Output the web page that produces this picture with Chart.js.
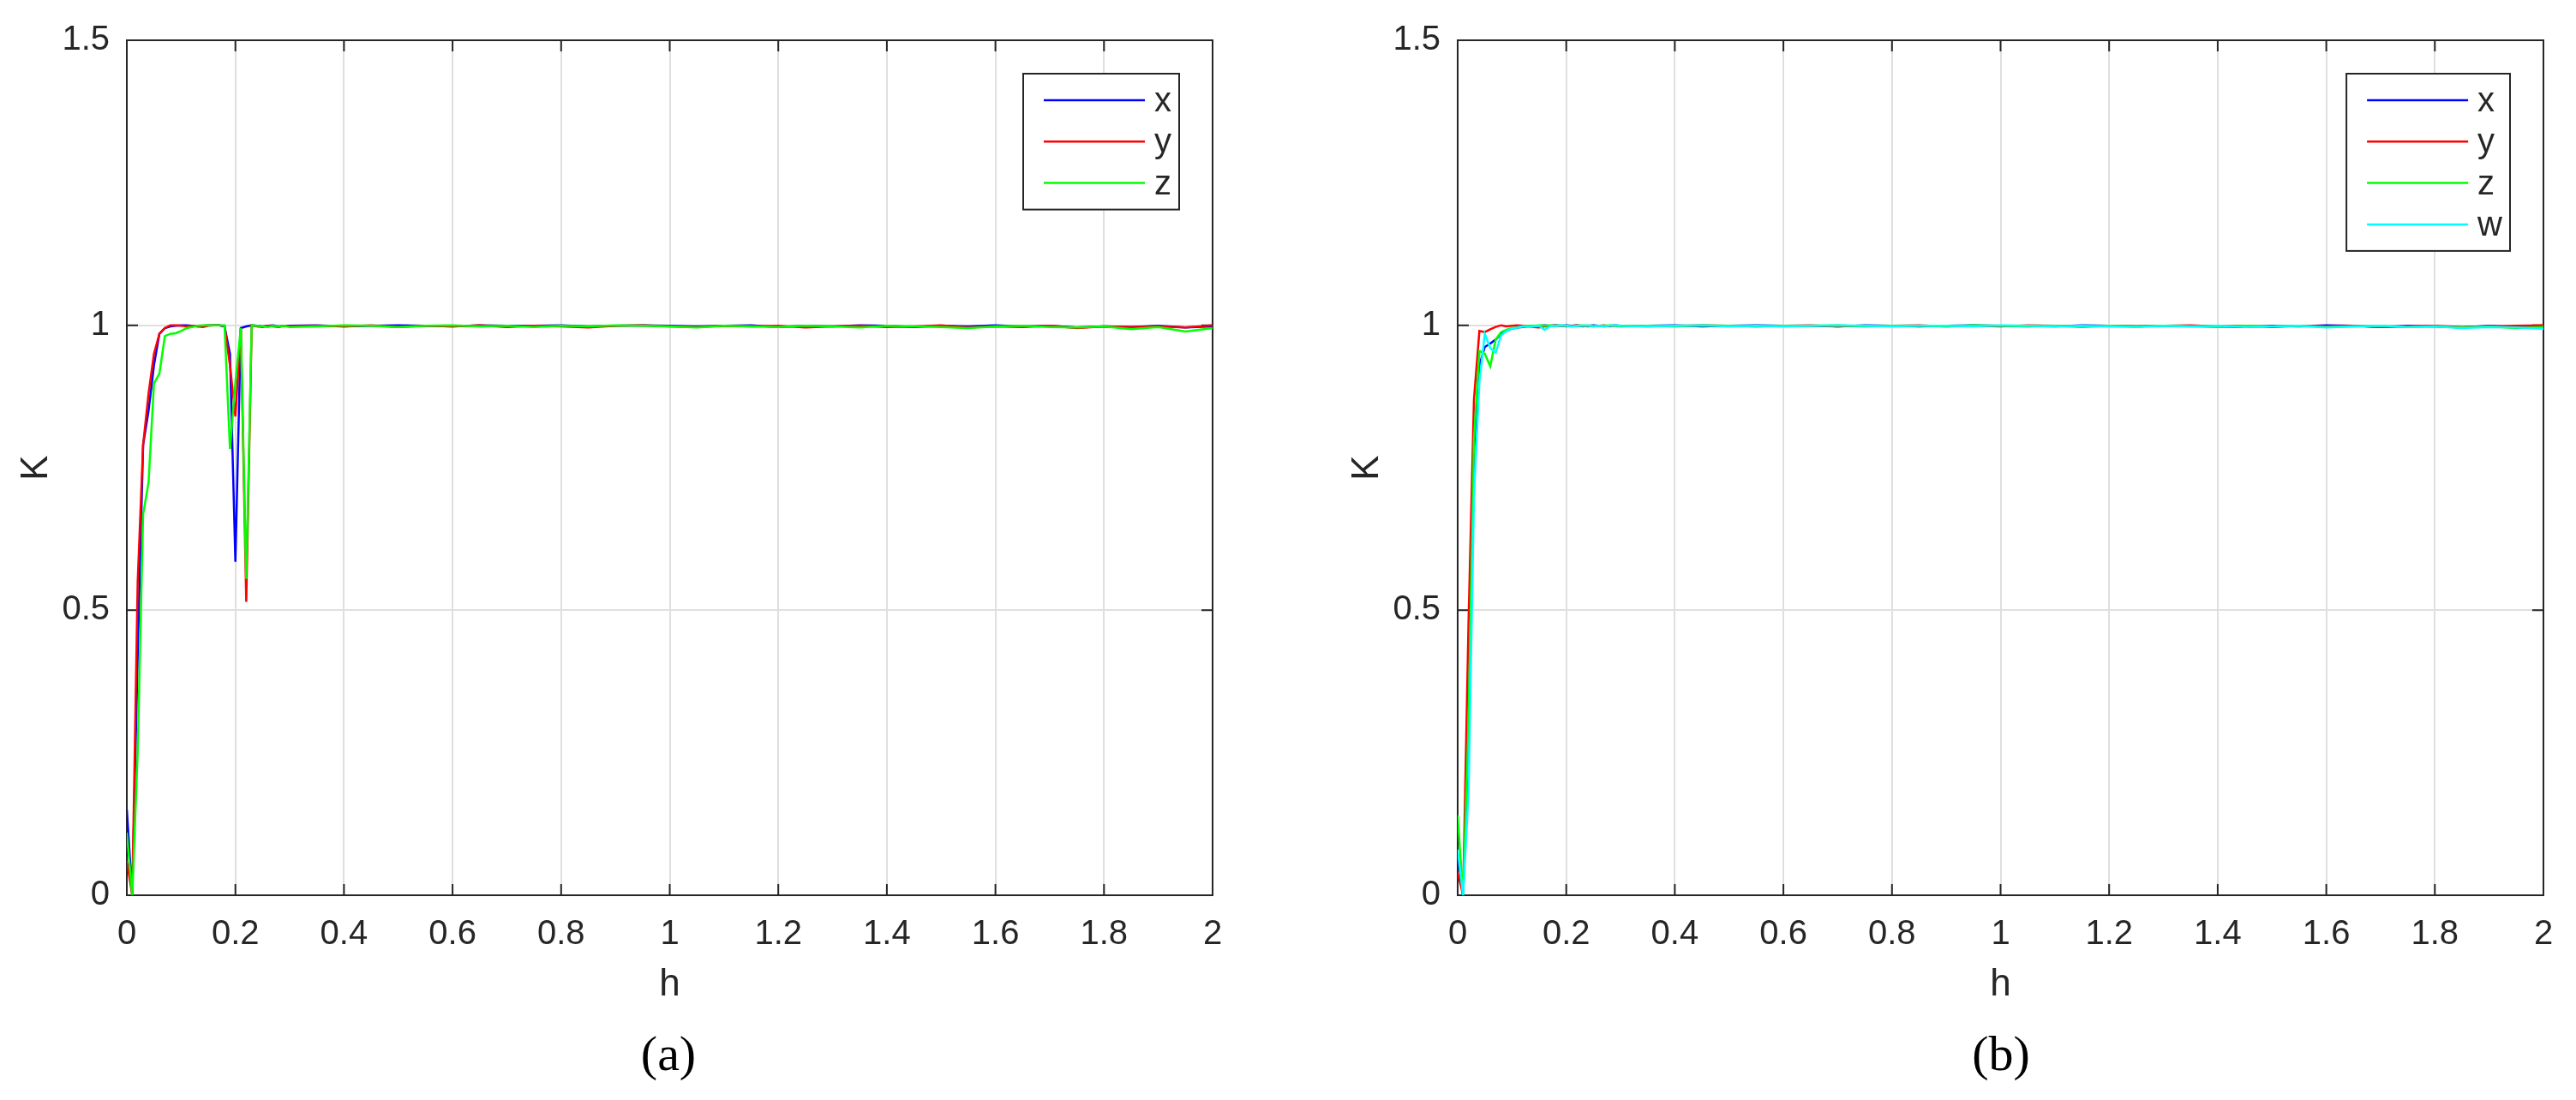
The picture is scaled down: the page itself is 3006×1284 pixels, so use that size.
<!DOCTYPE html>
<html>
<head>
<meta charset="utf-8">
<script src="https://cdn.jsdelivr.net/npm/chart.js@4.4.0/dist/chart.umd.min.js"></script>
<style>
  html, body { margin: 0; padding: 0; background: #fff; }
  body { width: 3006px; height: 1284px; position: relative; overflow: hidden; }
  .panel { position: absolute; top: 0; height: 1284px; }
  .caption {
    position: absolute; top: 1229px;
    font-family: "Liberation Serif", "Times New Roman", serif;
    font-size: 58px; color: #000;
    transform: translate(-50%, -50%);
  }
</style>
</head>
<body>
<div class="panel" style="left:0;width:1503px"><canvas id="chartA"></canvas></div>
<div class="panel" style="left:1553px;width:1453px"><canvas id="chartB"></canvas></div>
<div class="caption" style="left:780px">(a)</div>
<div class="caption" style="left:2335px">(b)</div>
<script>
// step values of h (fine near the start, coarser on the flat part)
const hGrid = [0, 0.01, 0.02, 0.03, 0.04, 0.05, 0.06, 0.07, 0.08, 0.09,
  0.10, 0.11, 0.12, 0.13, 0.14, 0.15, 0.16, 0.17, 0.18, 0.19,
  0.20, 0.21, 0.22, 0.23, 0.24, 0.25, 0.26, 0.27, 0.28, 0.29,
  0.30,
  0.35, 0.40, 0.45, 0.50, 0.55, 0.60, 0.65, 0.70, 0.75, 0.80,
  0.85, 0.90, 0.95, 1.00, 1.05, 1.10, 1.15, 1.20, 1.25, 1.30,
  1.35, 1.40, 1.45, 1.50, 1.55, 1.60, 1.65, 1.70, 1.75, 1.80,
  1.85, 1.90, 1.95, 2.00];

const xTickLabels = ['0', '0.2', '0.4', '0.6', '0.8', '1', '1.2', '1.4', '1.6', '1.8', '2'];
const yTickLabels = ['0', '0.5', '1', '1.5'];

// panel (a)
const aX = [0.15, 0.0, 0.42, 0.79, 0.85, 0.93, 0.985, 0.995, 0.998, 0.999,
  1.0, 1.0, 0.999, 0.998, 0.999, 1.0, 1.0, 1.0, 0.998, 0.95,
  0.585, 0.995, 0.998, 1.0, 0.999, 0.998, 0.999, 1.0, 0.998, 0.999,
  0.999,
  1.0, 0.998, 0.999, 1.0, 0.999, 0.998, 1.0, 0.999, 0.999, 1.0,
  0.998, 0.999, 1.0, 0.999, 0.998, 0.999, 1.0, 0.997, 0.999, 0.998,
  1.0, 0.999, 0.997, 0.999, 0.998, 1.0, 0.998, 0.999, 0.996, 0.998,
  0.997, 0.999, 0.996, 0.998];
const aY = [0.06, 0.0, 0.55, 0.79, 0.88, 0.95, 0.985, 0.995, 1.0, 1.0,
  0.999, 0.998, 0.999, 0.998, 0.997, 0.999, 1.0, 1.0, 0.999, 0.93,
  0.84, 0.995, 0.515, 1.0, 0.998, 0.997, 0.999, 0.998, 0.997, 0.999,
  0.998,
  0.999, 0.998, 1.0, 0.997, 0.999, 0.998, 1.0, 0.997, 0.999, 0.998,
  0.996, 0.999, 1.0, 0.998, 0.997, 0.999, 0.998, 0.999, 0.996, 0.998,
  0.999, 0.997, 0.998, 1.0, 0.996, 0.998, 0.997, 0.999, 0.995, 0.998,
  0.997, 0.998, 0.996, 1.0];
const aZ = [0.11, 0.0, 0.25, 0.668, 0.724, 0.898, 0.915, 0.981, 0.985, 0.986,
  0.99, 0.995, 0.997, 0.999, 1.0, 1.0, 1.0, 1.0, 1.0, 0.783,
  0.9, 0.995, 0.555, 1.0, 0.999, 0.998, 0.997, 0.999, 0.998, 0.999,
  0.997,
  0.998, 1.0, 0.999, 0.997, 0.999, 1.0, 0.998, 0.999, 0.997, 0.999,
  0.998, 1.0, 0.999, 0.998, 0.996, 0.999, 0.998, 0.997, 0.999, 0.998,
  0.996, 0.999, 0.998, 0.997, 0.995, 0.998, 0.999, 0.997, 0.996, 0.998,
  0.993, 0.997, 0.989, 0.995];

// panel (b)
const bX = [0.07, 0.0, 0.28, 0.78, 0.93, 0.962, 0.968, 0.975, 0.985, 0.99,
  0.994, 0.996, 0.997, 0.998, 0.999, 0.999, 1.0, 0.999, 1.0, 0.999,
  1.0, 0.999, 1.0, 0.998, 0.999, 1.0, 0.999, 0.998, 0.999, 1.0,
  0.999,
  0.999, 1.0, 0.998, 0.999, 1.0, 0.999, 0.999, 0.998, 1.0, 0.999,
  0.998, 0.999, 1.0, 0.999, 0.999, 0.998, 1.0, 0.999, 0.998, 0.999,
  0.999, 0.998, 0.997, 0.999, 0.998, 1.0, 0.999, 0.997, 0.999, 0.998,
  0.996, 0.999, 0.997, 0.998];
const bY = [0.04, 0.0, 0.48, 0.87, 0.99, 0.988, 0.993, 0.997, 1.0, 0.998,
  0.999, 1.0, 0.999, 0.998, 0.997, 0.996, 0.998, 0.999, 1.0, 0.999,
  0.998, 0.999, 1.0, 0.999, 0.998, 0.999, 0.999, 1.0, 0.998, 0.999,
  0.999,
  0.998, 0.999, 1.0, 0.999, 0.998, 0.999, 1.0, 0.998, 0.999, 0.999,
  1.0, 0.998, 0.999, 0.998, 1.0, 0.999, 0.998, 0.999, 0.998, 0.999,
  1.0, 0.998, 0.999, 0.997, 0.999, 0.998, 0.999, 0.997, 0.998, 0.999,
  0.997, 0.998, 0.999, 1.0];
const bZ = [0.14, 0.0, 0.3, 0.8, 0.955, 0.95, 0.928, 0.975, 0.988, 0.992,
  0.995, 0.996, 0.998, 0.999, 0.999, 1.0, 0.999, 1.0, 0.999, 1.0,
  0.999, 0.998, 0.999, 1.0, 0.999, 0.998, 0.999, 0.999, 1.0, 0.999,
  0.998,
  0.999, 0.998, 1.0, 0.999, 0.998, 0.999, 0.999, 1.0, 0.998, 0.999,
  0.999, 0.998, 1.0, 0.999, 0.998, 0.999, 0.997, 0.999, 0.998, 0.999,
  0.998, 0.997, 0.999, 0.998, 0.999, 0.997, 0.998, 0.999, 0.997, 0.998,
  0.996, 0.998, 0.995, 0.997];
const bW = [0.08, 0.0, 0.18, 0.7, 0.9, 0.985, 0.96, 0.952, 0.982, 0.99,
  0.994, 0.996, 0.998, 0.997, 0.998, 0.999, 0.992, 0.998, 0.999, 1.0,
  0.999, 0.998, 0.999, 0.999, 1.0, 0.998, 0.999, 0.998, 0.999, 1.0,
  0.999,
  0.998, 0.999, 1.0, 0.998, 0.999, 0.998, 0.999, 1.0, 0.999, 0.998,
  0.999, 0.999, 0.998, 1.0, 0.999, 0.998, 0.999, 0.998, 0.997, 0.999,
  0.998, 0.999, 0.997, 0.998, 0.999, 0.996, 0.998, 0.999, 0.997, 0.998,
  0.995, 0.997, 0.996, 0.994];

const axisColor = '#262626';
const fontFamily = '"Liberation Sans", Arial, sans-serif';
const tickLen = 13;

// matlab style box with inward ticks on all four sides
const boxPlugin = {
  id: 'boxPlugin',
  beforeDatasetsDraw(chart) {
    const { ctx, chartArea: a, scales: { x, y } } = chart;
    ctx.save();
    ctx.strokeStyle = axisColor;
    ctx.lineWidth = 2;
    ctx.beginPath();
    x.ticks.forEach(t => {
      const px = x.getPixelForValue(t.value);
      ctx.moveTo(px, a.bottom); ctx.lineTo(px, a.bottom - tickLen);
      ctx.moveTo(px, a.top); ctx.lineTo(px, a.top + tickLen);
    });
    y.ticks.forEach(t => {
      const py = y.getPixelForValue(t.value);
      ctx.moveTo(a.left, py); ctx.lineTo(a.left + tickLen, py);
      ctx.moveTo(a.right, py); ctx.lineTo(a.right - tickLen, py);
    });
    ctx.stroke();
    ctx.strokeRect(a.left, a.top, a.width, a.height);
    ctx.restore();
  }
};

// legend box inside the upper right corner
const legendPlugin = {
  id: 'legendPlugin',
  afterDatasetsDraw(chart) {
    const { ctx, chartArea: a } = chart;
    const sets = chart.data.datasets;
    ctx.save();
    ctx.font = '40px ' + fontFamily;
    const textW = Math.max(...sets.map(d => ctx.measureText(d.label).width));
    const rowH = 48.3;
    const w = 153 + textW + 9;
    const h = 62 + rowH * (sets.length - 1);
    const left = a.right - 39 - w, top = a.top + 39;
    ctx.fillStyle = '#fff';
    ctx.fillRect(left, top, w, h);
    ctx.strokeStyle = axisColor;
    ctx.lineWidth = 2;
    ctx.strokeRect(left, top, w, h);
    sets.forEach((d, i) => {
      const yy = top + 31 + rowH * i;
      ctx.strokeStyle = d.borderColor;
      ctx.lineWidth = 2.5;
      ctx.beginPath();
      ctx.moveTo(left + 24, yy);
      ctx.lineTo(left + 142, yy);
      ctx.stroke();
      ctx.fillStyle = axisColor;
      ctx.textBaseline = 'middle';
      ctx.fillText(d.label, left + 153, yy + 2);
    });
    ctx.restore();
  }
};

function series(label, values, color, order) {
  return {
    label: label,
    data: hGrid.map((h, i) => ({ x: h, y: values[i] })),
    borderColor: color,
    backgroundColor: color,
    borderWidth: 2.5,
    pointRadius: 0,
    tension: 0,
    order: order
  };
}

function makeChart(id, datasets, rightPad) {
  return new Chart(document.getElementById(id), {
    type: 'line',
    data: { datasets: datasets },
    options: {
      responsive: true,
      maintainAspectRatio: false,
      animation: false,
      layout: { padding: { top: 47, right: rightPad, bottom: 104, left: 0 } },
      plugins: { legend: { display: false }, tooltip: { enabled: false } },
      scales: {
        x: {
          type: 'linear', min: 0, max: 2,
          afterFit: s => { s.height = 135; },
          grid: { color: '#dfdfdf', lineWidth: 2, drawTicks: false },
          border: { display: false },
          ticks: {
            stepSize: 0.2, autoSkip: false, maxRotation: 0, padding: 22,
            color: axisColor, font: { family: fontFamily, size: 40 },
            callback: (v, i) => xTickLabels[i]
          },
          title: {
            display: true, text: 'h', color: axisColor,
            font: { family: fontFamily, size: 44 },
            padding: { top: 0, bottom: 4 }
          }
        },
        y: {
          min: 0, max: 1.5,
          afterFit: s => { s.width = 148; },
          grid: { color: '#dfdfdf', lineWidth: 2, drawTicks: false },
          border: { display: false },
          ticks: {
            stepSize: 0.5, padding: 20,
            color: axisColor, font: { family: fontFamily, size: 40 },
            callback: (v, i) => yTickLabels[i]
          },
          title: {
            display: true, text: 'K', color: axisColor,
            font: { family: fontFamily, size: 44 },
            padding: { top: 16, bottom: 0 }
          }
        }
      }
    },
    plugins: [boxPlugin, legendPlugin]
  });
}

makeChart('chartA', [
  series('x', aX, '#0000ff', 3),
  series('y', aY, '#ff0000', 2),
  series('z', aZ, '#00ff00', 1)
], 88);

makeChart('chartB', [
  series('x', bX, '#0000ff', 4),
  series('y', bY, '#ff0000', 3),
  series('z', bZ, '#00ff00', 2),
  series('w', bW, '#00ffff', 1)
], 38);
</script>
</body>
</html>
